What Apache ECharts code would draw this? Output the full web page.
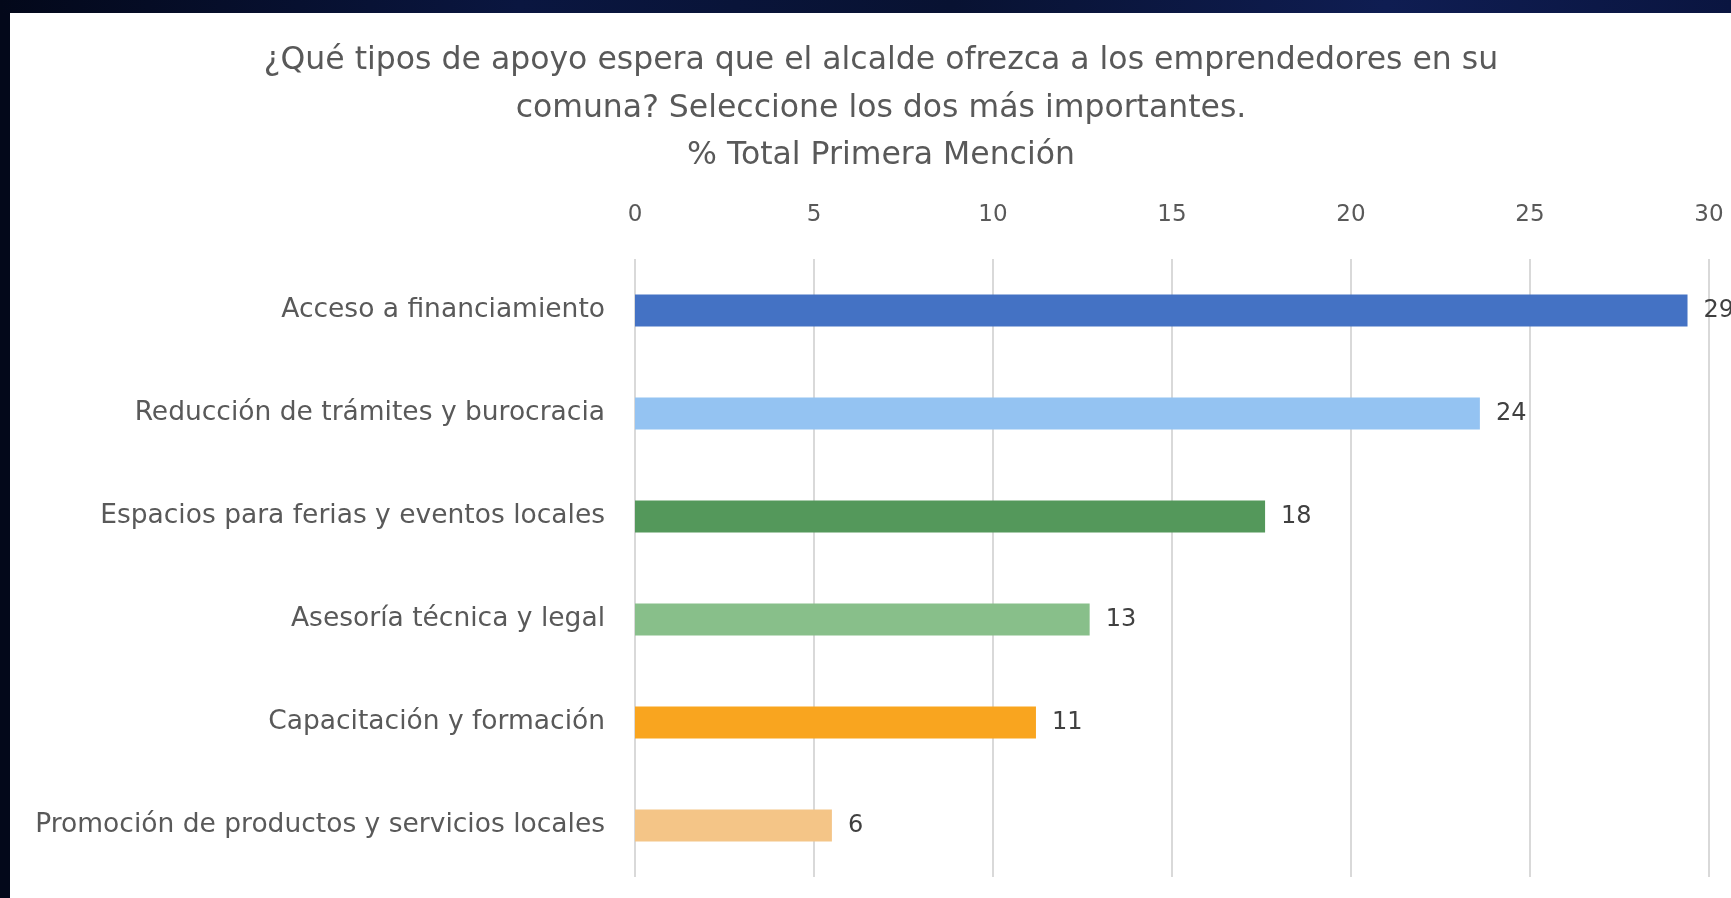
<!DOCTYPE html>
<html>
<head>
<meta charset="utf-8">
<script src="https://cdn.jsdelivr.net/npm/echarts@6/dist/echarts.min.js"></script>
<style>
  html, body { margin: 0; padding: 0; width: 1731px; height: 898px; overflow: hidden;
    background: linear-gradient(90deg, #03081a 0%, #0a1640 30%, #081232 55%, #0f1d52 80%, #0a1540 100%); }
  #panel { position: absolute; left: 0; top: 13px; width: 1731px; height: 885px; background: #03081a; }
  #chart { position: absolute; left: 10px; top: 13px; width: 1721px; height: 885px; background: #ffffff; }
</style>
</head>
<body>
<div id="panel"></div>
<div id="chart"></div>
<script>
const titleLines = [
  '¿Qué tipos de apoyo espera que el alcalde ofrezca a los emprendedores en su',
  'comuna? Seleccione los dos más importantes.',
  '% Total Primera Mención'
];
const categories = [
  'Acceso a financiamiento',
  'Reducción de trámites y burocracia',
  'Espacios para ferias y eventos locales',
  'Asesoría técnica y legal',
  'Capacitación y formación',
  'Promoción de productos y servicios locales'
];
const values = [29.4, 23.6, 17.6, 12.7, 11.2, 5.5];
const barColors = ['#4472c4', '#94c3f2', '#54985b', '#88bf8a', '#f9a51f', '#f4c587'];
const axisMin = 0, axisMax = 30, axisStep = 5;

const FONT = '"DejaVu Sans", "Noto Sans", sans-serif';
const chart = echarts.init(document.getElementById('chart'), null, { renderer: 'canvas' });
chart.setOption({
  animation: false,
  backgroundColor: '#ffffff',
  graphic: titleLines.map((t, i) => ({
    type: 'text',
    x: 871,
    y: 48 + i * 47.5,
    style: {
      text: t,
      fill: '#595959',
      font: '400 31.5px ' + FONT,
      textAlign: 'center',
      textVerticalAlign: 'middle'
    }
  })),
  grid: { left: 625, right: 22, top: 246, bottom: 21, containLabel: false },
  xAxis: {
    type: 'value',
    position: 'top',
    min: axisMin, max: axisMax, interval: axisStep,
    axisLine: { show: false },
    axisTick: { show: false },
    axisLabel: { color: '#595959', fontFamily: FONT, fontSize: 23, margin: 32 },
    splitLine: { show: true, lineStyle: { color: '#d9d9d9', width: 2 } }
  },
  yAxis: {
    type: 'category',
    inverse: true,
    data: categories,
    axisLine: { show: false },
    axisTick: { show: false },
    axisLabel: { color: '#595959', fontFamily: FONT, fontSize: 26.5, margin: 30 }
  },
  series: [{
    type: 'bar',
    data: values.map((v, i) => ({ value: v, itemStyle: { color: barColors[i] } })),
    barWidth: 32,
    label: {
      show: true,
      position: 'right',
      distance: 16,
      color: '#404040',
      fontFamily: FONT,
      fontSize: 24,
      formatter: p => Math.round(p.value)
    }
  }]
});
</script>
</body>
</html>
